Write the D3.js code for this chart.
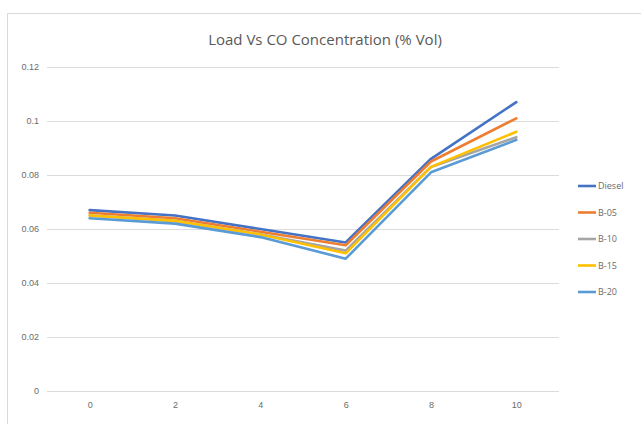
<!DOCTYPE html>
<html>
<head>
<meta charset="utf-8">
<script src="https://cdn.jsdelivr.net/npm/d3@7"></script>
<style>
  html, body { margin: 0; padding: 0; background: #fff; }
  svg { display: block; font-family: "Open Sans", "Liberation Sans", sans-serif; }
</style>
</head>
<body>
<svg id="chart" width="641" height="424"></svg>
<script>
// Engine load (kg) on the category axis
const loads = [0, 2, 4, 6, 8, 10];

// CO concentration (% vol) for each fuel blend
const diesel = [0.067, 0.065, 0.060, 0.055, 0.086, 0.107];
const b05    = [0.066, 0.064, 0.059, 0.054, 0.085, 0.101];
const b10    = [0.065, 0.063, 0.058, 0.052, 0.083, 0.094];
const b15    = [0.065, 0.063, 0.058, 0.051, 0.083, 0.096];
const b20    = [0.064, 0.062, 0.057, 0.049, 0.081, 0.093];

const seriesNames = ["Diesel", "B-05", "B-10", "B-15", "B-20"];
const seriesColors = ["#4472C4", "#ED7D31", "#A5A5A5", "#FFC000", "#5B9BD5"];
const yTicks = [0, 0.02, 0.04, 0.06, 0.08, 0.1, 0.12];

const series = [diesel, b05, b10, b15, b20].map((values, i) => ({
  name: seriesNames[i], color: seriesColors[i], values
}));

const svg = d3.select("#chart");
const W = 641, H = 424;

// chart area frame
svg.append("rect")
  .attr("x", 7.5).attr("y", 13.5)
  .attr("width", W).attr("height", H)
  .attr("fill", "#fff").attr("stroke", "#d9d9d9").attr("stroke-width", 1);

const plot = { left: 47, right: 559, top: 67, bottom: 391 };

const x = d3.scalePoint()
  .domain(loads)
  .range([plot.left, plot.right])
  .padding(0.5);

const y = d3.scaleLinear()
  .domain([0, 0.12])
  .range([plot.bottom, plot.top]);

// horizontal gridlines
svg.append("g")
  .selectAll("line")
  .data(yTicks)
  .join("line")
  .attr("x1", plot.left).attr("x2", plot.right)
  .attr("y1", d => Math.round(y(d)) + 0.5).attr("y2", d => Math.round(y(d)) + 0.5)
  .attr("stroke", "#dcdcdc").attr("stroke-width", 1);

// y axis labels
const yAxis = d3.axisLeft(y).tickValues(yTicks).tickSize(0).tickPadding(0)
  .tickFormat(d => d3.format("~g")(+d.toFixed(2)));
svg.append("g")
  .attr("transform", `translate(${plot.left - 8},0)`)
  .call(yAxis)
  .call(g => g.select(".domain").remove())
  .call(g => g.selectAll("text").attr("fill", "#6b6b6b").attr("font-size", 9));

// x axis labels
const xAxis = d3.axisBottom(x).tickSize(0).tickPadding(0);
svg.append("g")
  .attr("transform", `translate(0,${plot.bottom + 11})`)
  .call(xAxis)
  .call(g => g.select(".domain").remove())
  .call(g => g.selectAll("text").attr("fill", "#6b6b6b").attr("font-size", 9));

// series lines
const line = d3.line()
  .x((d, i) => x(loads[i]))
  .y(d => y(d));

svg.append("g")
  .selectAll("path")
  .data(series)
  .join("path")
  .attr("d", s => line(s.values))
  .attr("fill", "none")
  .attr("stroke", s => s.color)
  .attr("stroke-width", 2.6)
  .attr("stroke-linejoin", "round")
  .attr("stroke-linecap", "round");

// title
svg.append("text")
  .attr("x", 325).attr("y", 45)
  .attr("text-anchor", "middle")
  .attr("fill", "#595959")
  .attr("font-size", 15)
  .text("Load Vs CO Concentration (% Vol)");

// legend
const legend = svg.append("g")
  .selectAll("g")
  .data(series)
  .join("g")
  .attr("transform", (d, i) => `translate(578,${186 + i * 26.5})`);

legend.append("line")
  .attr("x1", 0).attr("x2", 18)
  .attr("stroke", d => d.color)
  .attr("stroke-width", 2.6);

legend.append("text")
  .attr("x", 20).attr("y", 3)
  .attr("fill", "#6b6b6b")
  .attr("font-size", 9)
  .text(d => d.name);
</script>
</body>
</html>
